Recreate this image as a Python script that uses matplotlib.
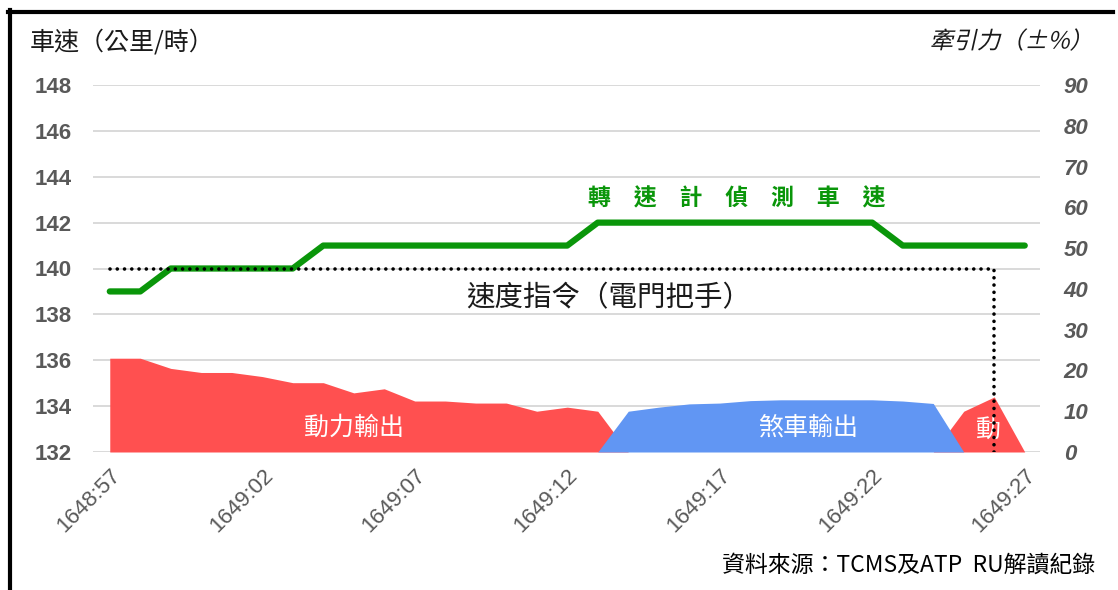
import numpy as np
import matplotlib
matplotlib.use('Agg')
from matplotlib import pyplot as plt
from matplotlib import transforms as mtransforms
from matplotlib.lines import Line2D
from matplotlib.patheffects import AbstractPathEffect

plt.rcParams['font.family'] = ['Noto Sans CJK TC', 'DejaVu Sans']

# one sample per second
times = ['1648:57', '1648:58', '1648:59', '1649:00', '1649:01', '1649:02',
         '1649:03', '1649:04', '1649:05', '1649:06', '1649:07', '1649:08',
         '1649:09', '1649:10', '1649:11', '1649:12', '1649:13', '1649:14',
         '1649:15', '1649:16', '1649:17', '1649:18', '1649:19', '1649:20',
         '1649:21', '1649:22', '1649:23', '1649:24', '1649:25', '1649:26',
         '1649:27']

# speed from tachometer (km/h)
speed = [139, 139, 140, 140, 140, 140, 140, 141, 141, 141, 141, 141, 141,
         141, 141, 141, 142, 142, 142, 142, 142, 142, 142, 142, 142, 142,
         141, 141, 141, 141, 141]

# speed command from master controller, drops at 1649:26
cmd_idx = [0, 29, 29]
cmd_speed = [140, 140, 132]

# traction / brake output (%)
power = [23, 23, 20.5, 19.5, 19.5, 18.5, 17, 17, 14.5, 15.5, 12.5, 12.5, 12,
         12, 10, 11, 10, 0, 0, 0, 0, 0, 0, 0, 0, 0, 0, 0, 10, 13.5, 0]
brake = [0, 0, 0, 0, 0, 0, 0, 0, 0, 0, 0, 0, 0, 0, 0, 0, 0, 10, 11, 11.8,
         12, 12.6, 12.8, 12.8, 12.8, 12.8, 12.5, 11.9, 0, 0, 0]

speed_ticks = [132, 134, 136, 138, 140, 142, 144, 146, 148]
pct_ticks = [0, 10, 20, 30, 40, 50, 60, 70, 80, 90]

GREY = '#595959'
RED = '#FF5050'
BLUE = '#6196F3'
GREEN = '#0A960A'


class Slant(AbstractPathEffect):
    """fake italic for fonts without an oblique face"""
    def __init__(self, shear=0.22):
        super().__init__()
        self.shear = shear

    def draw_path(self, renderer, gc, tpath, affine, rgbFace=None):
        x0, y0 = affine.transform((0, 0))
        skew = mtransforms.Affine2D().translate(-x0, -y0).skew(self.shear, 0).translate(x0, y0)
        renderer.draw_path(gc, tpath, affine + skew, rgbFace)


x = np.arange(len(times))

fig = plt.figure(figsize=(11.18, 5.9), dpi=100)
ax = fig.add_axes([93/1118, 1 - 452/590, (1040 - 93)/1118, (452 - 85)/590])
ax2 = ax.twinx()
ax.set_zorder(2)
ax2.set_zorder(1)
ax.patch.set_visible(False)

ax.set_xlim(-0.55, len(times) - 0.5)
ax.set_ylim(speed_ticks[0], speed_ticks[-1])
ax2.set_ylim(pct_ticks[0], pct_ticks[-1])

# horizontal grid, drawn under the filled areas
grid_tf = mtransforms.blended_transform_factory(ax2.transAxes, ax.transData)
for v in speed_ticks:
    ax2.plot([0, 1], [v, v], color='#D0D0D0', lw=1.1, transform=grid_tf, zorder=0)

ax2.fill_between(x, 0, power, color=RED, lw=0, zorder=2)
ax2.fill_between(x, 0, brake, color=BLUE, lw=0, zorder=3)

ax.plot(x, speed, color=GREEN, lw=4.5, solid_capstyle='round', solid_joinstyle='round', zorder=3)
ax.plot(cmd_idx, cmd_speed, color='black', lw=2.6, linestyle=(0, (0.01, 2.0)),
        dash_capstyle='round', zorder=4)

for a in (ax, ax2):
    for s in a.spines.values():
        s.set_visible(False)

ax.set_yticks(speed_ticks)
ax.set_yticklabels([str(v) for v in speed_ticks], family='Liberation Sans',
                   fontweight='bold', fontsize=16, color=GREY)
ax.tick_params(axis='y', length=0, pad=15)

ax2.set_yticks(pct_ticks)
ax2.set_yticklabels([str(v) for v in pct_ticks], family='Liberation Sans',
                    fontweight='bold', style='italic', fontsize=16, color=GREY)
ax2.tick_params(axis='y', length=0, pad=17)

ax.set_xticks(x[::5])
ax.set_xticklabels(times[::5], family='Liberation Sans', fontsize=16, color=GREY,
                   rotation=45, ha='right', va='top', rotation_mode='anchor')
ax.tick_params(axis='x', length=0, pad=9)

# labels inside the plot
ax2.text(8.0, 6, '動力輸出', color='white', fontsize=18, ha='center', va='center', zorder=5)
ax2.text(22.9, 6, '煞車輸出', color='white', fontsize=18, ha='center', va='center', zorder=5)
ax2.text(28.8, 5.4, '動', color='white', fontsize=18, ha='center', va='center', zorder=5)
ax.text(20.55, 143.05, '轉\u3000速\u3000計\u3000偵\u3000測\u3000車\u3000速', color=GREEN,
        fontsize=16.5, fontweight='bold', ha='center', va='center')
ax.text(11.7, 138.7, '速度指令（電門把手）', color='#1A1A1A', fontsize=20.5,
        ha='left', va='center')

# axis titles and source note
fig.text(30/1118, 1 - 42/590, '車速（公里/時）', fontsize=18, color='#1A1A1A',
         ha='left', va='center')
fig.text(1093/1118, 1 - 42/590, '牽引力（±%）', fontsize=17, color='#1A1A1A',
         ha='right', va='center', path_effects=[Slant()])
fig.text(1095/1118, 1 - 565/590, '資料來源：TCMS及ATP  RU解讀紀錄', fontsize=16.5,
         color='black', ha='right', va='center')

# frame lines
fig.add_artist(Line2D([10/1118, 10/1118], [0, 1 - 10/590], transform=fig.transFigure,
                      color='black', lw=3))
fig.add_artist(Line2D([8/1118, 1113/1118], [1 - 11.5/590, 1 - 11.5/590],
                      transform=fig.transFigure, color='black', lw=3))

fig.savefig('out.png', dpi=100)
